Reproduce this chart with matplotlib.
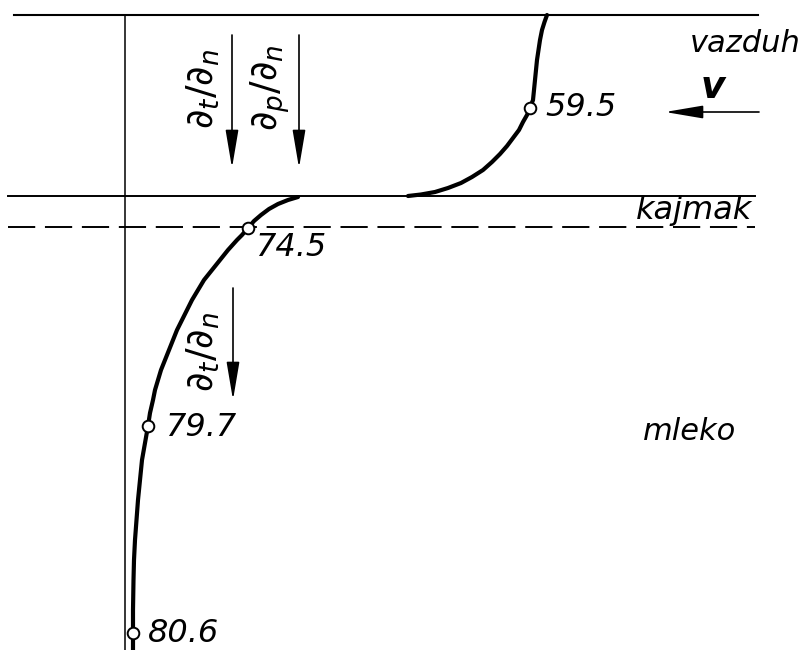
import matplotlib.pyplot as plt

# profile (x across, depth downwards, in picture units)
upper_x = [547, 544.5, 542, 540, 538.5, 537, 536, 535, 534, 533, 530,
           527, 523, 519, 513, 507, 500, 492, 483, 472, 461, 448, 435, 421, 408]
upper_y = [15, 22, 30, 40, 50, 60, 70, 80, 90, 100, 108,
           115, 122, 130, 138, 146, 154, 162, 170, 177, 183, 188, 192, 194.5, 196]
lower_x = [298, 288, 278, 269, 261, 254, 248, 242, 237, 228, 220, 212, 204, 198,
           192, 187, 182, 177, 173, 169, 165, 161, 158, 155, 153, 150, 148, 145, 142,
           140, 138, 136.5, 135, 134, 133.5, 133, 133, 133]
lower_y = [197, 200, 204, 209, 215, 221, 228, 235, 240, 250, 260, 270, 280, 290,
           300, 310, 320, 330, 340, 350, 360, 370, 380, 390, 400, 413, 426, 443, 460,
           480, 500, 520, 540, 560, 580, 610, 633, 650]

# measured temperatures and where they sit on the profile
temps = ["59.5", "74.5", "79.7", "80.6"]
temp_x = [530, 248, 148, 133]
temp_y = [108, 228, 426, 633]

layer_names = ["vazduh", "kajmak", "mleko"]

fig = plt.figure(figsize=(8.06, 6.5), dpi=100)
ax = fig.add_axes([0, 0, 1, 1])
ax.set_xlim(0, 806)
ax.set_ylim(650, 0)
ax.axis("off")

# layer boundaries
ax.plot([14, 758], [15, 15], color="black", lw=1.5)
ax.plot([8, 755], [196, 196], color="black", lw=1.4)
ax.plot([8, 755], [227, 227], color="black", lw=1.4, dashes=(14, 5))
ax.plot([125, 125], [15, 650], color="black", lw=1.1)

# temperature profile
ax.plot(upper_x, upper_y, color="black", lw=3, solid_joinstyle="round", solid_capstyle="round")
ax.plot(lower_x, lower_y, color="black", lw=3, solid_joinstyle="round", solid_capstyle="round")
ax.scatter(temp_x, temp_y, s=70, facecolor="white", edgecolor="black", lw=1.4, zorder=5)

txt = dict(fontsize=23, style="italic", color="black", va="center", ha="left")
offsets = [(15, 0), (7, 19), (17, 2), (15, 0)]
for t, x, y, (dx, dy) in zip(temps, temp_x, temp_y, offsets):
    ax.text(x + dx, y + dy, t, **txt)

ax.text(690, 43, layer_names[0], fontsize=22, style="italic", va="center", ha="left")
ax.text(636, 210, layer_names[1], fontsize=23, style="italic", va="center", ha="left")
ax.text(643, 431, layer_names[2], fontsize=22, style="italic", va="center", ha="left")

# flow direction of air
ax.text(713, 88, "v", fontsize=27, style="italic", weight="bold", va="center", ha="center")
arrow = dict(arrowstyle="-|>,head_length=1.3,head_width=0.22", lw=1.2, color="black",
             shrinkA=0, shrinkB=0, mutation_scale=18)
ax.annotate("", xy=(665, 112), xytext=(759, 112), arrowprops=arrow)

# gradient arrows
plt.rcParams["mathtext.fontset"] = "dejavusans"
grad = dict(fontsize=27, rotation=90, va="center", ha="center")
ax.annotate("", xy=(232, 168), xytext=(232, 35), arrowprops=arrow)
ax.annotate("", xy=(299, 168), xytext=(299, 35), arrowprops=arrow)
ax.annotate("", xy=(233, 400), xytext=(233, 288), arrowprops=arrow)
ax.text(203, 89, r"$\mathit{\partial_t/\partial_n}$", **grad)
ax.text(270, 88, r"$\mathit{\partial_p/\partial_n}$", **grad)
ax.text(203, 352, r"$\mathit{\partial_t/\partial_n}$", **grad)

fig.savefig("out.png", dpi=100)
